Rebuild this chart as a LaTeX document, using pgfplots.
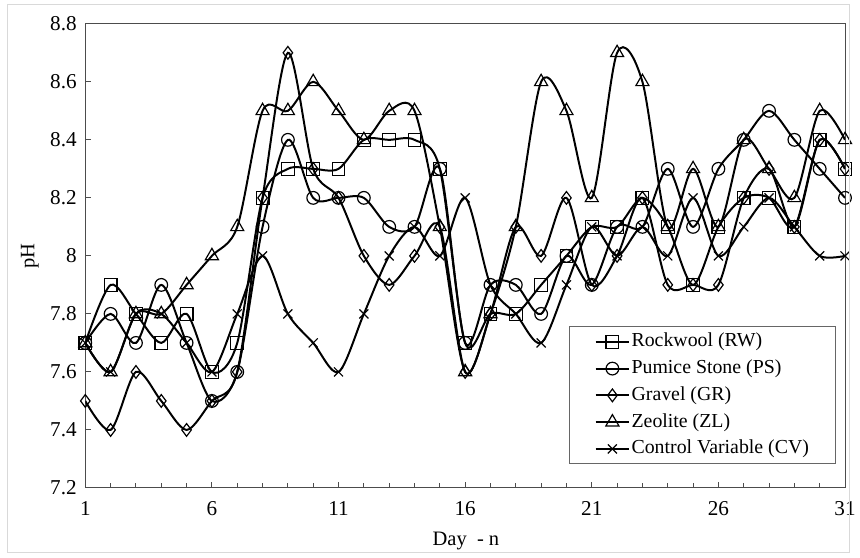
\documentclass[border=0pt]{standalone}
\usepackage{fontspec}
\setmainfont{Liberation Serif}
\usepackage{pgfplots}
\pgfplotsset{compat=1.18}

\pgfplotstableset{col sep=space}
\usepackage{pgfplotstable}
% day RW PS GR ZL CV
\pgfplotstableread{
day RW  PS  GR  ZL  CV
1   7.7 7.7 7.5 7.7 7.7
2   7.9 7.8 7.4 7.6 7.6
3   7.8 7.7 7.6 7.8 7.8
4   7.7 7.9 7.5 7.8 7.8
5   7.8 7.7 7.4 7.9 7.7
6   7.6 7.5 7.5 8.0 7.6
7   7.7 7.6 7.6 8.1 7.8
8   8.2 8.1 8.2 8.5 8.0
9   8.3 8.4 8.7 8.5 7.8
10  8.3 8.2 8.3 8.6 7.7
11  8.3 8.2 8.2 8.5 7.6
12  8.4 8.2 8.0 8.4 7.8
13  8.4 8.1 7.9 8.5 8.0
14  8.4 8.1 8.0 8.5 8.1
15  8.3 8.3 8.1 8.1 8.0
16  7.7 7.7 7.6 7.6 8.2
17  7.8 7.9 7.8 7.8 7.9
18  7.8 7.9 8.1 8.1 7.8
19  7.9 7.8 8.0 8.6 7.7
20  8.0 8.0 8.2 8.5 7.9
21  8.1 7.9 7.9 8.2 8.1
22  8.1 8.1 8.0 8.7 8.0
23  8.2 8.1 8.2 8.6 8.1
24  8.1 8.3 7.9 8.1 8.0
25  7.9 8.1 7.9 8.3 8.2
26  8.1 8.3 7.9 8.1 8.0
27  8.2 8.4 8.2 8.4 8.1
28  8.2 8.5 8.3 8.3 8.2
29  8.1 8.4 8.1 8.2 8.1
30  8.4 8.3 8.4 8.5 8.0
31  8.3 8.2 8.3 8.4 8.0
}\phdata

\begin{document}
\begin{tikzpicture}
\begin{axis}[
    scale only axis,
    width=574.5pt, height=351pt,
    xmin=1, xmax=31, ymin=7.2, ymax=8.8,
    xtick={1,6,...,31},
    minor x tick num=4,
    ytick={7.2,7.4,...,8.81},
    xtick pos=left, ytick pos=left,
    tick align=inside,
    major tick length=4.5pt, minor tick length=3.5pt,
    tick style={black!70, line width=0.75pt},
    axis line style={black!70, line width=0.75pt},
    tick label style={font=\fontsize{16}{18}\selectfont},
    xticklabel style={yshift=-7pt},
    yticklabel style={xshift=-3pt},
    label style={font=\fontsize{15.5}{18}\selectfont},
    /pgf/number format/assume math mode=true,
    xlabel={Day\ \ - n}, ylabel={pH},
    xlabel style={at={(axis description cs:0.501,-0.115)}, anchor=center},
    ylabel style={at={(axis description cs:-0.073,0.50)}, anchor=center},
    legend style={at={(axis description cs:0.988,0.051)}, anchor=south east,
        draw=black!60, line width=0.75pt, font=\fontsize{15}{18}\selectfont,
        inner xsep=19pt, inner ysep=3pt, row sep=3.75pt,
        nodes={inner xsep=1pt, inner ysep=1.5pt, text height=10.5pt, text depth=3pt}},
    legend cell align=left,
    legend image code/.code={
        \draw[mark repeat=2, mark phase=2] plot coordinates {(0pt,0pt) (12.75pt,0pt) (25.5pt,0pt)};},
    every axis plot/.append style={black, line width=1.5pt, smooth, tension=0.5,
        mark options={line width=0.9pt, solid}},
]
\addplot[mark=square, mark size=4.8pt] table[x=day, y=RW] {\phdata};
\addlegendentry{Rockwool (RW)}
\addplot[mark=o, mark size=4.8pt] table[x=day, y=PS] {\phdata};
\addlegendentry{Pumice Stone (PS)}
\addplot[mark=diamond, mark size=4.8pt] table[x=day, y=GR] {\phdata};
\addlegendentry{Gravel (GR)}
\addplot[mark=triangle, mark size=5.7pt] table[x=day, y=ZL] {\phdata};
\addlegendentry{Zeolite (ZL)}
\addplot[mark=x, mark size=4.8pt] table[x=day, y=CV] {\phdata};
\addlegendentry{Control Variable (CV)}
\end{axis}
\draw[black!15, line width=0.75pt] (-58.5pt,-48.75pt) rectangle (578.25pt,365.25pt);
\useasboundingbox (-64.5pt,-52.5pt) rectangle (580.5pt,369pt);
\end{tikzpicture}
\end{document}
